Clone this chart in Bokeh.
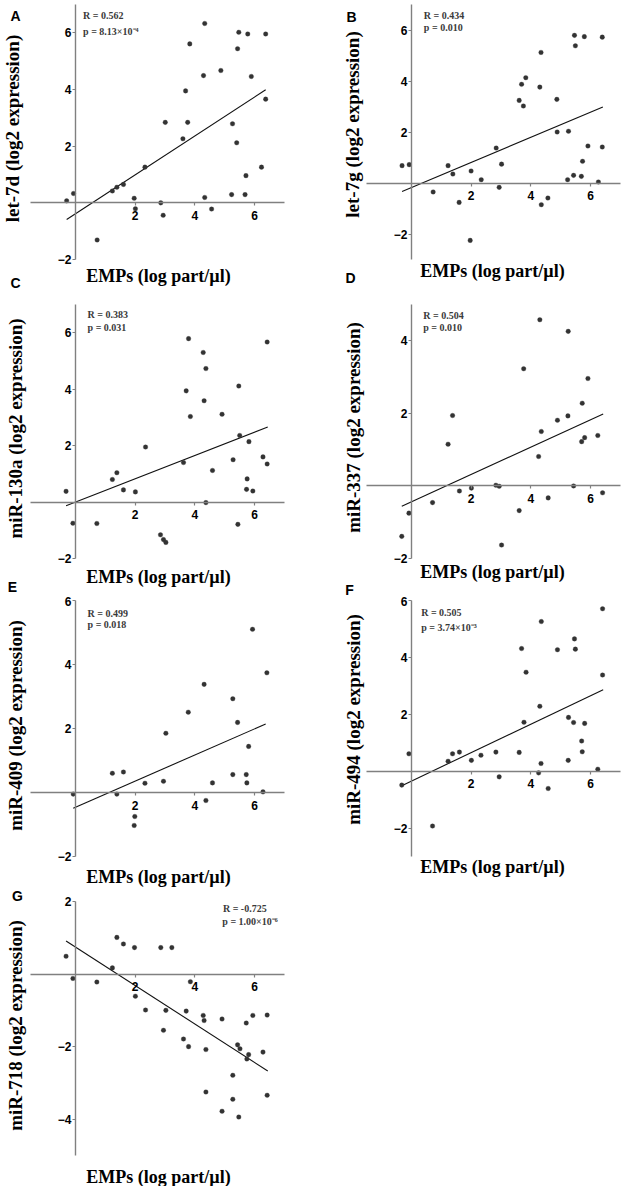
import math
from bokeh.plotting import figure
from bokeh.models import Range1d, FixedTicker, Label
from bokeh.layouts import column, row
from bokeh.embed import file_html
from bokeh.resources import INLINE

# ---------------- data ----------------
x_limits = (-1.5, 7.0)
x_ticks = [2, 4, 6]
x_label = "EMPs (log part/µl)"

a_x = [-0.29, -0.06, 0.73, 1.24, 1.39, 1.61, 1.97, 2.01, 2.33, 2.86, 2.94, 3.01, 3.60, 3.69, 3.76, 3.83, 4.29,
       4.33, 4.33, 4.56, 4.87, 5.23, 5.26, 5.40, 5.43, 5.47, 5.68, 5.71, 5.77, 5.89, 6.23, 6.37, 6.37]
a_y = [0.07, 0.33, -1.31, 0.42, 0.55, 0.65, 0.16, -0.21, 1.26, 0.00, -0.44, 2.84, 2.26, 3.95, 2.84, 5.61, 4.49,
       6.33, 0.19, -0.22, 4.67, 0.29, 2.79, 2.12, 5.44, 6.02, 0.29, 0.96, 5.96, 4.46, 1.26, 5.96, 3.66]
a_fit_x = [-0.29, 6.37]
a_fit_y = [-0.59, 3.99]

b_x = [-0.31, -0.07, 0.73, 1.23, 1.39, 1.60, 2.00, 1.97, 2.34, 2.84, 2.94, 3.02, 3.61, 3.69, 3.75, 3.83, 4.30,
       4.34, 4.35, 4.57, 4.87, 4.88, 5.23, 5.26, 5.43, 5.46, 5.49, 5.69, 5.73, 5.79, 5.91, 6.26, 6.39, 6.39]
b_y = [0.68, 0.72, -0.35, 0.68, 0.35, -0.76, 0.47, -2.25, 0.13, 1.37, -0.17, 0.74, 3.24, 3.87, 3.02, 4.13, 3.76,
       5.12, -0.85, -0.59, 3.28, 2.00, 0.13, 2.03, 0.30, 5.79, 5.38, 0.26, 0.85, 5.74, 1.45, 0.04, 5.72, 1.41]
b_fit_x = [-0.31, 6.41]
b_fit_y = [-0.33, 2.98]

c_x = [-0.31, -0.08, 0.72, 1.24, 1.39, 1.61, 2.01, 2.35, 2.85, 2.95, 3.03, 3.62, 3.71, 3.79, 3.85, 4.28, 4.31,
       4.37, 4.37, 4.59, 4.91, 5.28, 5.44, 5.47, 5.50, 5.73, 5.75, 5.81, 5.94, 6.28, 6.42, 6.42]
c_y = [0.38, -0.75, -0.76, 0.80, 1.04, 0.43, 0.36, 1.95, -1.16, -1.33, -1.43, 1.40, 3.94, 5.79, 3.03, 5.30, 3.59,
       4.73, -0.02, 1.12, 3.11, 1.50, -0.79, 4.11, 2.36, 0.45, 0.82, 2.14, 0.39, 1.60, 5.67, 1.35]
c_fit_x = [-0.31, 6.44]
c_fit_y = [-0.13, 2.66]

d_x = [-0.32, -0.08, 0.71, 1.23, 1.38, 1.61, 2.01, 2.83, 2.94, 3.02, 3.61, 3.76, 4.26, 4.30, 4.35, 4.58, 4.89,
       5.24, 5.25, 5.43, 5.70, 5.72, 5.80, 5.91, 6.24, 6.40]
d_y = [-1.39, -0.75, -0.46, 1.15, 1.94, -0.14, -0.06, 0.02, -0.01, -1.63, -0.68, 3.23, 0.81, 4.58, 1.50, -0.33,
       1.81, 1.93, 4.26, 0.00, 1.22, 2.28, 1.33, 2.96, 1.39, -0.19]
d_fit_x = [-0.32, 6.42]
d_fit_y = [-0.56, 1.98]

e_x = [-0.07, 1.24, 1.39, 1.61, 1.99, 1.97, 2.33, 2.95, 3.03, 3.78, 4.31, 4.37, 4.59, 5.27, 5.27, 5.43, 5.72,
       5.74, 5.80, 5.93, 6.28, 6.41]
e_y = [-0.05, 0.60, -0.05, 0.64, -0.75, -1.03, 0.29, 0.35, 1.85, 2.51, 3.38, -0.25, 0.30, 2.93, 0.56, 2.19, 0.56,
       0.30, 1.44, 5.10, 0.02, 3.74]
e_fit_x = [-0.07, 6.37]
e_fit_y = [-0.49, 2.14]

f_x = [-0.32, -0.08, 0.71, 1.23, 1.38, 1.61, 2.01, 2.33, 2.83, 2.94, 3.61, 3.69, 3.77, 3.84, 4.26, 4.30, 4.34,
       4.35, 4.58, 4.89, 5.25, 5.26, 5.43, 5.46, 5.49, 5.70, 5.72, 5.80, 6.24, 6.40, 6.40]
f_y = [-0.49, 0.61, -1.93, 0.35, 0.61, 0.67, 0.38, 0.56, 0.67, -0.20, 0.66, 4.31, 1.72, 3.48, -0.06, 2.28, 0.27,
       5.26, -0.61, 4.27, 0.38, 1.89, 1.71, 4.65, 4.29, 1.06, 0.68, 1.68, 0.07, 5.71, 3.38]
f_fit_x = [-0.32, 6.42]
f_fit_y = [-0.51, 2.86]

g_x = [-0.31, -0.08, 0.72, 1.24, 1.39, 1.61, 1.98, 2.01, 2.35, 2.86, 2.95, 3.03, 3.23, 3.62, 3.71, 3.79, 3.85,
       4.28, 4.31, 4.37, 4.37, 4.91, 4.91, 5.27, 5.27, 5.43, 5.47, 5.51, 5.72, 5.74, 5.80, 5.94, 6.28, 6.42, 6.42]
g_y = [0.49, -0.12, -0.22, 0.17, 1.01, 0.83, 0.73, -0.61, -0.99, 0.73, -1.55, -1.00, 0.73, -1.79, -1.02, -2.00,
       -0.21, -1.14, -1.28, -2.08, -3.25, -1.24, -3.78, -2.79, -3.45, -1.95, -3.94, -2.06, -1.35, -2.34, -2.22,
       -1.14, -2.15, -1.13, -3.34]
g_fit_x = [-0.31, 6.44]
g_fit_y = [0.91, -2.67]

panel_letters = ["A", "B", "C", "D", "E", "F", "G"]
y_labels = ["let-7d (log2 expression)", "let-7g (log2 expression)", "miR-130a (log2 expression)",
            "miR-337 (log2 expression)", "miR-409 (log2 expression)", "miR-494 (log2 expression)",
            "miR-718 (log2 expression)"]
r_texts = ["R = 0.562", "R = 0.434", "R = 0.383", "R = 0.504", "R = 0.499", "R = 0.505", "R = -0.725"]
p_texts = ["p = 8.13×10⁻⁴", "p = 0.010", "p = 0.031", "p = 0.010", "p = 0.018", "p = 3.74×10⁻³",
           "p = 1.00×10⁻⁶"]
y_limits = [(-2, 7), (-3, 7), (-2, 7), (-2, 5), (-2, 6), (-3, 6), (-5, 2)]
y_ticks = [[-2, 2, 4, 6], [-2, 2, 4, 6], [-2, 2, 4, 6], [-2, 2, 4], [-2, 2, 4, 6], [-2, 2, 4, 6], [-4, -2, 2]]

# ---------------- styling / layout ----------------
SERIF = "Liberation Serif"
SANS = "Liberation Sans"
AXIS_GREY = "#808080"
DOT = "#333333"

# per figure: (fig_left, fig_top, pad_left, pad_top, plot_w, plot_h, pad_right, pad_bottom)
# the axes box (plot_w x plot_h) sits inside the figure canvas at (pad_left, pad_top)
geo = {
    "A": (0, 0, 30, 4, 254, 255, 28, 33),
    "B": (312, 0, 54, 4, 254, 255, 4, 33),
    "C": (0, 292, 30, 12, 254, 254, 28, 38),
    "D": (312, 292, 54, 12, 254, 254, 4, 38),
    "E": (0, 596, 30, 4, 254, 256, 28, 32),
    "F": (312, 596, 54, 4, 254, 256, 4, 32),
    "G": (0, 888, 30, 13, 254, 254, 28, 31),
}
# page positions (px) of the texts outside the axes boxes
extra_letters = {"A": [("A", 15, 15), ("C", 15, 282)],
                 "B": [("B", 351, 16), ("D", 350, 277)],
                 "C": [("E", 12, 586)],
                 "D": [("F", 349, 589)],
                 "E": [], "F": [],
                 "G": [("G", 17, 895)]}
xlabel_pos = {"A": (158, 275), "B": (492, 270), "C": (158, 576), "D": (492, 571),
              "E": (158, 876), "F": (492, 866), "G": (158, 1176)}
ylabel_pos = {"A": (12, 128), "B": (352, 124), "C": (15, 428), "D": (353, 427),
              "E": (15, 725), "F": (353, 719), "G": (15, 1025)}
rp_pos = {"A": ((0.26, 6.61), (0.26, 6.06)), "B": ((0.42, 6.56), (0.42, 6.08)),
          "C": ((0.41, 6.63), (0.41, 6.18)), "D": ((0.40, 4.69), (0.40, 4.37)),
          "E": ((0.41, 5.60), (0.41, 5.26)), "F": ((0.33, 5.59), (0.33, 5.06)),
          "G": ((4.94, 1.82), (4.92, 1.44))}

series = {"A": (a_x, a_y, a_fit_x, a_fit_y), "B": (b_x, b_y, b_fit_x, b_fit_y),
          "C": (c_x, c_y, c_fit_x, c_fit_y), "D": (d_x, d_y, d_fit_x, d_fit_y),
          "E": (e_x, e_y, e_fit_x, e_fit_y), "F": (f_x, f_y, f_fit_x, f_fit_y),
          "G": (g_x, g_y, g_fit_x, g_fit_y)}


def make_panel(i):
    key = panel_letters[i]
    xs, ys, fx, fy = series[key]
    y_lo, y_hi = y_limits[i]
    fl0, ft0, bl, bt, fw, fh, br, bb = geo[key]
    x_lo, x_hi = x_limits
    ux = (x_hi - x_lo) / fw
    uy = (y_hi - y_lo) / fh
    W = bl + fw + br
    H = bt + fh + bb
    xr = Range1d(x_lo - bl * ux, x_hi + br * ux)
    yr = Range1d(y_lo - bb * uy, y_hi + bt * uy)

    def to_data(lx, ly):
        return (xr.start + (lx - fl0) * ux, yr.end - (ly - ft0) * uy)

    p = figure(frame_width=W, frame_height=H,
               min_border_left=0, min_border_right=0, min_border_top=0, min_border_bottom=0,
               x_range=xr, y_range=yr,
               output_backend="svg", toolbar_location=None, tools="")
    p.grid.visible = False
    p.outline_line_color = None
    p.background_fill_color = "white"
    p.border_fill_color = "white"

    p.xaxis.fixed_location = 0
    p.yaxis.fixed_location = 0
    p.xaxis.bounds = x_limits
    p.yaxis.bounds = (y_lo, y_hi)
    p.xaxis.ticker = FixedTicker(ticks=x_ticks)
    p.yaxis.ticker = FixedTicker(ticks=y_ticks[i])
    for ax in (p.xaxis, p.yaxis):
        ax.axis_line_color = AXIS_GREY
        ax.axis_line_width = 1.4
        ax.major_tick_line_color = AXIS_GREY
        ax.major_tick_line_width = 1.2
        ax.major_tick_in = 0
        ax.major_tick_out = 3
        ax.minor_tick_line_color = None
        ax.major_label_text_font = SANS
        ax.major_label_text_font_style = "bold"
        ax.major_label_text_font_size = "12px"
        ax.major_label_text_color = "black"
    p.xaxis.major_label_standoff = 5
    p.yaxis.major_label_standoff = 1

    p.line(fx, fy, line_color="#111111", line_width=1.1)
    p.scatter(xs, ys, size=4.6, fill_color=DOT, line_color=DOT, line_width=0.3)

    (rx, ry), (px_, py_) = rp_pos[key]
    for t, (tx, ty) in ((r_texts[i], (rx, ry)), (p_texts[i], (px_, py_))):
        p.add_layout(Label(x=tx, y=ty, text=t, text_font=SERIF, text_font_style="bold",
                           text_font_size="10px", text_color="#3a3a3a",
                           text_align="left", text_baseline="middle"))

    lx, ly = to_data(*xlabel_pos[key])
    p.add_layout(Label(x=lx, y=ly, text=x_label, text_font=SERIF, text_font_style="bold",
                       text_font_size="18px", text_color="black",
                       text_align="center", text_baseline="middle"))
    vx, vy = to_data(*ylabel_pos[key])
    p.add_layout(Label(x=vx, y=vy, text=y_labels[i], text_font=SERIF, text_font_style="bold",
                       text_font_size="19px", text_color="black", angle=math.pi / 2,
                       text_align="center", text_baseline="middle"))
    for (t, qx, qy) in extra_letters[key]:
        dx, dy = to_data(qx, qy)
        p.add_layout(Label(x=dx, y=dy, text=t, text_font=SANS, text_font_style="bold",
                           text_font_size="14px", text_color="black",
                           text_align="center", text_baseline="middle"))
    return p


figs = [make_panel(i) for i in range(7)]
layout = column(row(figs[0], figs[1]), row(figs[2], figs[3]), row(figs[4], figs[5]), row(figs[6]))

open("out.html", "w").write(file_html(layout, INLINE))
